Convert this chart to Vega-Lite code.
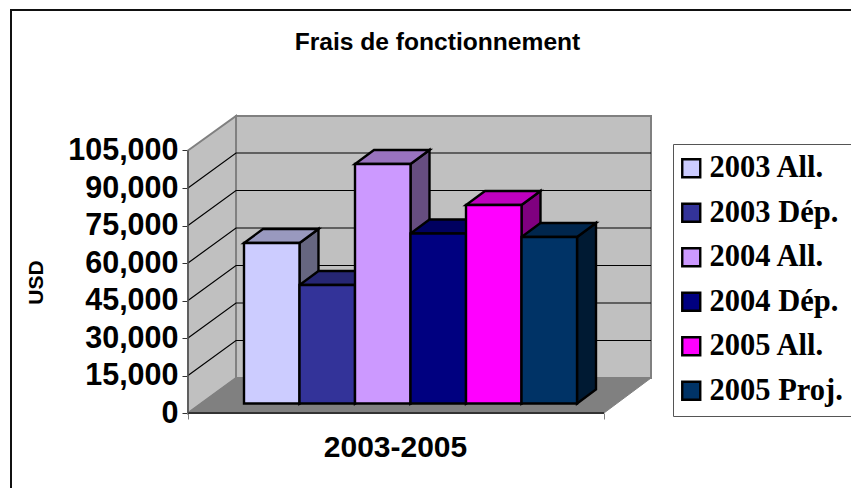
{"$schema":"https://vega.github.io/schema/vega-lite/v6.json","width":463,"height":297,"autosize":{"type":"none"},"padding":{"left":188,"top":116,"right":200,"bottom":75},"background":"white","config":{"view":{"stroke":null}},"title":{"text":"Frais de fonctionnement","font":"Liberation Sans","fontWeight":"bold","fontSize":24.6,"color":"#000","anchor":"middle","frame":"group","dx":18,"offset":-47},"datasets":{"bars":[{"series":"2003 All.","x0":1.009,"x1":2.009,"value":64200},{"series":"2003 Dép.","x0":2.009,"x1":3.009,"value":47400},{"series":"2004 All.","x0":3.009,"x1":4.009,"value":95800},{"series":"2004 Dép.","x0":4.009,"x1":5.009,"value":68000},{"series":"2005 All.","x0":5.009,"x1":6.009,"value":79400},{"series":"2005 Proj.","x0":6.009,"x1":7.009,"value":66600}],"sides":[{"series":"2003 All.","x":2.009,"y":64200,"y2":0},{"series":"2003 All.","x":2.351,"y":69800,"y2":5600},{"series":"2003 Dép.","x":3.009,"y":47400,"y2":0},{"series":"2003 Dép.","x":3.351,"y":53000,"y2":5600},{"series":"2004 All.","x":4.009,"y":95800,"y2":0},{"series":"2004 All.","x":4.351,"y":101400,"y2":5600},{"series":"2004 Dép.","x":5.009,"y":68000,"y2":0},{"series":"2004 Dép.","x":5.351,"y":73600,"y2":5600},{"series":"2005 All.","x":6.009,"y":79400,"y2":0},{"series":"2005 All.","x":6.351,"y":85000,"y2":5600},{"series":"2005 Proj.","x":7.009,"y":66600,"y2":0},{"series":"2005 Proj.","x":7.351,"y":72200,"y2":5600}],"tops":[{"series":"2003 All.","y":64200,"x":1.009,"x2":2.009},{"series":"2003 All.","y":69800,"x":1.351,"x2":2.351},{"series":"2003 Dép.","y":47400,"x":2.009,"x2":3.009},{"series":"2003 Dép.","y":53000,"x":2.351,"x2":3.351},{"series":"2004 All.","y":95800,"x":3.009,"x2":4.009},{"series":"2004 All.","y":101400,"x":3.351,"x2":4.351},{"series":"2004 Dép.","y":68000,"x":4.009,"x2":5.009},{"series":"2004 Dép.","y":73600,"x":4.351,"x2":5.351},{"series":"2005 All.","y":79400,"x":5.009,"x2":6.009},{"series":"2005 All.","y":85000,"x":5.351,"x2":6.351},{"series":"2005 Proj.","y":66600,"x":6.009,"x2":7.009},{"series":"2005 Proj.","y":72200,"x":6.351,"x2":7.351}],"grid":[{"v":15000,"x":0,"y":15000},{"v":15000,"x":0.865,"y":29000},{"v":15000,"x":8.342,"y":29000},{"v":30000,"x":0,"y":30000},{"v":30000,"x":0.865,"y":44000},{"v":30000,"x":8.342,"y":44000},{"v":45000,"x":0,"y":45000},{"v":45000,"x":0.865,"y":59000},{"v":45000,"x":8.342,"y":59000},{"v":60000,"x":0,"y":60000},{"v":60000,"x":0.865,"y":74000},{"v":60000,"x":8.342,"y":74000},{"v":75000,"x":0,"y":75000},{"v":75000,"x":0.865,"y":89000},{"v":75000,"x":8.342,"y":89000},{"v":90000,"x":0,"y":90000},{"v":90000,"x":0.865,"y":104000},{"v":90000,"x":8.342,"y":104000}]},"resolve":{"scale":{"color":"independent","fill":"independent"}},"layer":[{"data":{"values":[{"x":-3.189,"x2":13,"y":161200,"y2":-40000}]},"mark":{"type":"rect","filled":false,"stroke":"#111","strokeWidth":2},"encoding":{"x":{"field":"x","type":"quantitative","title":null,"scale":{"domain":[0,8.342],"nice":false,"zero":false},"axis":{"values":[0,7.495],"domain":false,"grid":false,"labels":false,"tickSize":6,"tickColor":"#808080","tickWidth":1,"title":"2003-2005","titleFont":"Liberation Sans","titleFontWeight":"bold","titleFontSize":30,"titleColor":"#000","titleX":207,"titleY":43,"titleBaseline":"alphabetic","titleAnchor":"middle"}},"x2":{"field":"x2"},"y":{"field":"y","type":"quantitative","scale":{"domain":[0,118800],"nice":false,"zero":false},"axis":{"values":[0,15000,30000,45000,60000,75000,90000,105000],"format":",d","domain":false,"grid":false,"tickSize":6,"tickColor":"#333","tickWidth":1,"labelPadding":4,"labelFont":"Liberation Sans","labelFontWeight":"bold","labelFontSize":30.5,"labelColor":"#000","title":"USD","titleFont":"Liberation Sans","titleFontWeight":"bold","titleFontSize":21,"titleColor":"#000","titleX":-146,"titleY":166,"titleAngle":-90,"titleBaseline":"alphabetic"}},"y2":{"field":"y2"}}},{"data":{"values":[{"x":0,"y":105000,"y2":0},{"x":0.865,"y":118800,"y2":14000}]},"mark":{"type":"area","orient":"vertical","fill":"#c0c0c0","stroke":"#808080","strokeWidth":2},"encoding":{"x":{"field":"x","type":"quantitative","scale":{"domain":[0,8.342],"nice":false,"zero":false}},"y":{"field":"y","type":"quantitative","stack":null,"scale":{"domain":[0,118800],"nice":false,"zero":false}},"y2":{"field":"y2"}}},{"data":{"values":[{"x":0.865,"x2":8.342,"y":14000,"y2":118800}]},"mark":{"type":"rect","fill":"#c0c0c0","stroke":"#808080","strokeWidth":2},"encoding":{"x":{"field":"x","type":"quantitative","scale":{"domain":[0,8.342],"nice":false,"zero":false}},"x2":{"field":"x2"},"y":{"field":"y","type":"quantitative","scale":{"domain":[0,118800],"nice":false,"zero":false}},"y2":{"field":"y2"}}},{"data":{"values":[{"y":0,"x":0,"x2":7.495},{"y":14000,"x":0.865,"x2":8.342}]},"mark":{"type":"area","orient":"horizontal","fill":"#808080","stroke":"#808080","strokeWidth":1},"encoding":{"y":{"field":"y","type":"quantitative","scale":{"domain":[0,118800],"nice":false,"zero":false}},"x":{"field":"x","type":"quantitative","stack":null,"scale":{"domain":[0,8.342],"nice":false,"zero":false}},"x2":{"field":"x2"}}},{"data":{"name":"grid"},"mark":{"type":"line","stroke":"#000","strokeWidth":1.2},"encoding":{"detail":{"field":"v"},"x":{"field":"x","type":"quantitative","scale":{"domain":[0,8.342],"nice":false,"zero":false}},"y":{"field":"y","type":"quantitative","scale":{"domain":[0,118800],"nice":false,"zero":false}}}},{"data":{"values":[{"x":0,"y":0},{"x":7.495,"y":0}]},"mark":{"type":"line","stroke":"#333","strokeWidth":2},"encoding":{"x":{"field":"x","type":"quantitative","scale":{"domain":[0,8.342],"nice":false,"zero":false}},"y":{"field":"y","type":"quantitative","scale":{"domain":[0,118800],"nice":false,"zero":false}}}},{"data":{"values":[{"x":0,"y":0},{"x":0,"y":105000}]},"mark":{"type":"line","stroke":"#555","strokeWidth":1.5},"encoding":{"x":{"field":"x","type":"quantitative","scale":{"domain":[0,8.342],"nice":false,"zero":false}},"y":{"field":"y","type":"quantitative","scale":{"domain":[0,118800],"nice":false,"zero":false}}}},{"data":{"name":"sides"},"mark":{"type":"area","orient":"vertical","stroke":"#000","strokeWidth":2.4,"yOffset":-9.5,"y2Offset":-9.5},"encoding":{"detail":{"field":"series"},"x":{"field":"x","type":"quantitative","scale":{"domain":[0,8.342],"nice":false,"zero":false}},"y":{"field":"y","type":"quantitative","stack":null,"scale":{"domain":[0,118800],"nice":false,"zero":false}},"y2":{"field":"y2"},"fill":{"field":"series","type":"nominal","legend":null,"scale":{"domain":["2003 All.","2003 Dép.","2004 All.","2004 Dép.","2005 All.","2005 Proj."],"range":["#666680","#1a1a4d","#664d80","#000040","#800080","#001a33"]}}}},{"data":{"name":"tops"},"mark":{"type":"area","orient":"horizontal","stroke":"#000","strokeWidth":2.4,"yOffset":-9.5},"encoding":{"detail":{"field":"series"},"y":{"field":"y","type":"quantitative","scale":{"domain":[0,118800],"nice":false,"zero":false}},"x":{"field":"x","type":"quantitative","stack":null,"scale":{"domain":[0,8.342],"nice":false,"zero":false}},"x2":{"field":"x2"},"fill":{"field":"series","type":"nominal","legend":null,"scale":{"domain":["2003 All.","2003 Dép.","2004 All.","2004 Dép.","2005 All.","2005 Proj."],"range":["#9999bf","#262673","#9973bf","#000060","#bf00bf","#00264d"]}}}},{"data":{"name":"bars"},"mark":{"type":"rect","stroke":"#000","strokeWidth":2.4,"yOffset":-9.5,"y2Offset":-9.5},"encoding":{"x":{"field":"x0","type":"quantitative","scale":{"domain":[0,8.342],"nice":false,"zero":false}},"x2":{"field":"x1"},"y":{"field":"value","type":"quantitative","scale":{"domain":[0,118800],"nice":false,"zero":false}},"y2":{"datum":0},"color":{"field":"series","type":"nominal","scale":{"domain":["2003 All.","2003 Dép.","2004 All.","2004 Dép.","2005 All.","2005 Proj."],"range":["#ccccff","#333399","#cc99ff","#000080","#ff00ff","#003366"]},"legend":{"orient":"none","legendX":485,"legendY":28,"title":null,"padding":9,"strokeColor":"#555","symbolType":"square","symbolSize":324,"symbolStrokeColor":"#000","symbolStrokeWidth":2.4,"symbolOpacity":1,"symbolOffset":-6,"labelFont":"Liberation Serif","labelFontWeight":"bold","labelFontSize":30.5,"labelColor":"#000","labelLimit":300,"labelOffset":3,"rowPadding":13.5}}}}]}
